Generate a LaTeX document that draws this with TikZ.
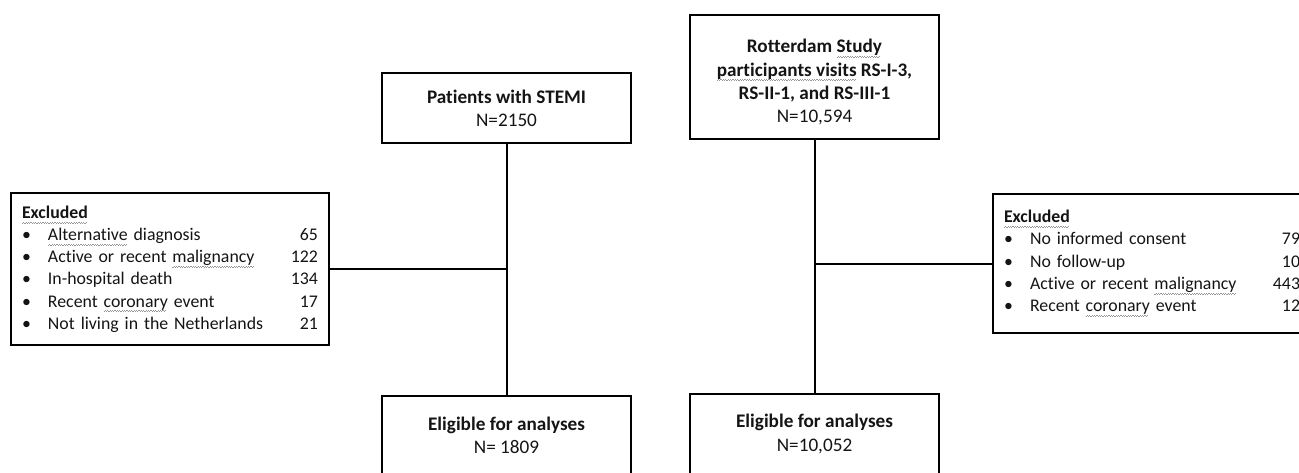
\documentclass[tikz,border=0pt]{standalone}
\usepackage{fontspec}
\setmainfont{Carlito}[Ligatures={NoCommon}]
\usepackage{xcolor}
\usetikzlibrary{positioning}
\definecolor{fcgray}{RGB}{150,150,150}
\definecolor{fctext}{RGB}{20,20,20}
\newsavebox{\sqbox}
\newcommand{\squig}[1]{\sbox{\sqbox}{#1}\rlap{\color{fcgray}\leaders\hbox{\rule[-2.6pt]{0.6pt}{0.45pt}\rule[-2.1pt]{0.6pt}{0.45pt}}\hskip\wd\sqbox}\usebox{\sqbox}}
\newcommand{\pushright}{\hspace{0pt plus 1filll}}
\newcommand{\bul}{\makebox[13pt][l]{\textbullet}}
\tikzstyle{link} = [line width=1pt, color=black]

\begin{document}
\begin{tikzpicture}[
    x=0.5pt, y=-0.5pt,
    every node/.style={text=fctext},
    box/.style={rectangle, draw=black, line width=1.1pt, minimum width=124.5pt, align=center, font=\fontsize{9.6}{11.65}\selectfont},
    exbox/.style={rectangle, draw=black, line width=1.1pt, align=left, text width=148pt, inner xsep=5.5pt, font=\fontsize{8.9}{11.1}\selectfont}
]
\useasboundingbox (0,0) rectangle (1299,472);

% STEMI side (left)
\node[box, minimum height=35pt] (stemi) at (506.5,108) {\textbf{Patients with STEMI}\\N=2150};
\node[box, minimum height=39.5pt] (eligL) at (506.5,435.5) {\textbf{Eligible for analyses}\\N= 1809};
\node[exbox, minimum height=76pt] (exclL) at (170,269) {%
\textbf{\squig{Excluded}}\\
\bul\squig{Alternative} diagnosis\pushright 65\\
\bul Active or recent \squig{malignancy}\pushright 122\\
\bul In-hospital death\pushright 134\\
\bul Recent \squig{coronary} event\pushright 17\\
\bul Not living in the Netherlands\pushright 21};

% Rotterdam Study side (right)
\node[box, minimum height=62pt] (rotter) at (814.5,77) {\rule{0pt}{12pt}\textbf{Rotterdam \squig{Study}}\\\textbf{\squig{participants visits} RS-I-3,}\\\textbf{RS-II-1, and RS-III-1}\\N=10,594};
\node[box, minimum height=40pt] (eligR) at (814.5,434) {\textbf{Eligible for analyses}\\N=10,052};
\node[exbox, minimum height=69.5pt] (exclR) at (1152,263.5) {%
\textbf{\squig{Excluded}}\\
\bul No informed consent\pushright 79\\
\bul No follow-up\pushright 10\\
\bul Active or recent \squig{malignancy}\pushright 443\\
\bul Recent \squig{coronary} event\pushright 12};

% Connectors
\draw[link] (stemi.south) -- (stemi.south |- eligL.north);
\draw[link] (exclL.east) -- (exclL.east -| stemi.south);
\draw[link] (rotter.south) -- (rotter.south |- eligR.north);
\draw[link] (exclR.west) -- (exclR.west -| rotter.south);

\end{tikzpicture}
\end{document}
